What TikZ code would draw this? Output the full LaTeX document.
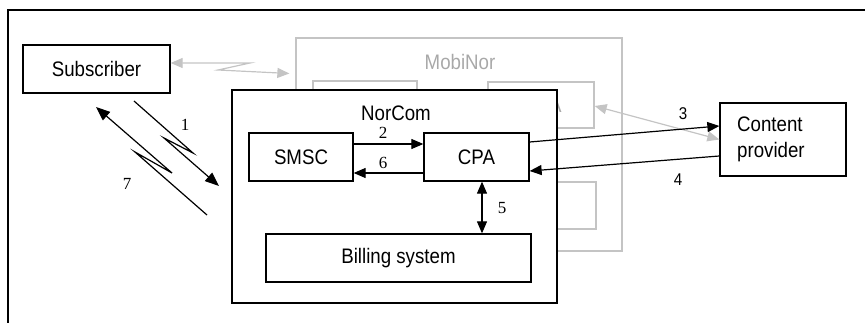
\documentclass[tikz,border=0pt]{standalone}
\usepackage{fontspec}
\setmainfont{Liberation Serif}
\newfontfamily\narrowsans[FakeStretch=0.89]{Liberation Sans}
\usetikzlibrary{arrows.meta}
\definecolor{ghost}{HTML}{C4C4C4}
\definecolor{ghosttext}{HTML}{A8A8A8}
\tikzset{
  box/.style={draw=black, line width=1.3pt, fill=white, inner sep=0pt,
              font=\narrowsans\fontsize{21}{26}\selectfont},
  gbox/.style={draw=ghost, line width=1.3pt, inner sep=0pt},
  link/.style={line width=1.2pt, -{Triangle[length=12pt,width=10pt]}},
  dlink/.style={line width=1.2pt, {Triangle[length=12pt,width=10pt]}-{Triangle[length=12pt,width=10pt]}},
  glink/.style={draw=ghost, line width=1.2pt, {Triangle[length=12pt,width=10pt]}-{Triangle[length=12pt,width=10pt]}},
  numserif/.style={font=\fontsize{17}{17}\selectfont, inner sep=0pt},
  numsans/.style={font=\narrowsans\fontsize{17}{17}\selectfont, inner sep=0pt}
}
\begin{document}
\begin{tikzpicture}[x=1pt,y=-1pt]
\useasboundingbox (0,0) rectangle (865,323);

% outer frame (open to the right and bottom)
\draw[line width=1.3pt] (865,10) -- (8,10) -- (8,323);

% MobiNor (grey background system)
\node[gbox, minimum width=326pt, minimum height=213pt] (mobinor) at (459,144.5) {};
\node[font=\narrowsans\fontsize{21}{26}\selectfont, text=ghosttext] (mobinorlbl) at (460,62) {MobiNor};
\node[gbox, minimum width=104pt, minimum height=60pt] (gsmsc) at (365,111) {};
\node[gbox, minimum width=106pt, minimum height=46pt] (gcpa) at (541,105) {};
\node[gbox, minimum width=108pt, minimum height=47pt] (gbill) at (542,205.5) {};
\begin{scope}
  \clip (558,80) rectangle (600,130);
  \node[font=\narrowsans\fontsize{21}{26}\selectfont, text=ghosttext] (gcpalbl) at (543,105) {CPA};
\end{scope}

% Content provider
\node[box, minimum width=126pt, minimum height=73pt] (content) at (783,139.5) {};
\node[font=\narrowsans\fontsize{21}{26}\selectfont, align=left, anchor=west, inner sep=0pt] (contentlbl) at (737,139.5) {Content\\provider};

% grey links
\draw[glink] ([yshift=-1pt]gcpa.east) -- (content.west);
\node[box, minimum width=147pt, minimum height=48pt] (subscriber) at (96.5,69) {Subscriber};
\coordinate (ga) at ([yshift=6pt]subscriber.east);
\coordinate (gb) at ([xshift=-6pt,yshift=-4.5pt]mobinor.west |- subscriber.east);
\draw[glink] (ga) -- (250,63) -- (218,70) -- (gb);

% NorCom
\node[box, minimum width=325pt, minimum height=213pt] (norcom) at (394.5,196.5) {};
\node[font=\narrowsans\fontsize{21}{26}\selectfont, inner sep=0pt] (norcomlbl) at (396,113) {NorCom};
\node[box, minimum width=104pt, minimum height=48pt] (smsc) at (301,157) {SMSC};
\node[box, minimum width=105pt, minimum height=48pt] (cpa) at (476.5,157) {CPA};
\node[box, minimum width=265pt, minimum height=48pt] (billing) at (398.5,258) {Billing system};

% internal messages
\draw[link] ([yshift=13pt]smsc.east) -- ([yshift=13pt]cpa.west);
\draw[link] ([yshift=-16pt]cpa.west) -- ([yshift=-16pt]smsc.east);
\draw[dlink] ([xshift=5.5pt]cpa.south) -- ([xshift=5.5pt]cpa.south |- billing.north);
\node[numserif] (n2) at (383,133) {2};
\node[numserif] (n6) at (383,163) {6};
\node[numserif] (n5) at (502,208) {5};

% messages to the content provider
\draw[link] ([yshift=15pt]cpa.east) -- ([yshift=13.5pt]content.west);
\draw[link] ([yshift=-16.5pt]content.west) -- ([yshift=-14pt]cpa.east);
\node[numsans] (n3) at (683,114) {3};
\node[numsans] (n4) at (678,180) {4};

% radio links subscriber <-> NorCom
\coordinate (r1s) at (134,101);
\coordinate (r1e) at (219,186);
\draw[link, -{Triangle[length=14pt,width=11pt]}] (r1s) -- (193,153) -- (164,138) -- (r1e);
\coordinate (r7s) at (207,215);
\coordinate (r7e) at (96,107);
\draw[link, -{Triangle[length=14pt,width=11pt]}] (r7s) -- (135,152) -- (172,173) -- (r7e);
\node[numserif] (n1) at (185,125) {1};
\node[numserif] (n7) at (127,184) {7};
\end{tikzpicture}
\end{document}
